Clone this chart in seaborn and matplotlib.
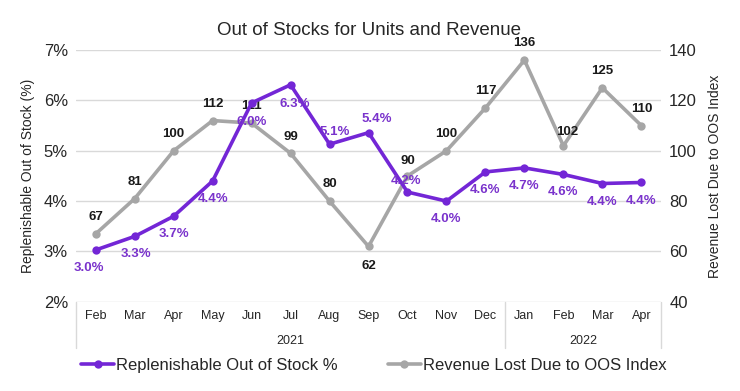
import numpy as np
import pandas as pd
import matplotlib
matplotlib.use("Agg")
import matplotlib.pyplot as plt
import seaborn as sns

# data
months = ["Feb", "Mar", "Apr", "May", "Jun", "Jul", "Aug", "Sep", "Oct", "Nov", "Dec",
          "Jan", "Feb", "Mar", "Apr"]
years = ["2021", "2022"]
months_per_year = [11, 4]
oos_pct = [3.03, 3.30, 3.70, 4.40, 5.95, 6.31, 5.13, 5.36, 4.18, 4.00, 4.58,
           4.66, 4.53, 4.35, 4.37]
oos_labels = ["3.0%", "3.3%", "3.7%", "4.4%", "6.0%", "6.3%", "5.1%", "5.4%", "4.2%",
              "4.0%", "4.6%", "4.7%", "4.6%", "4.4%", "4.4%"]
rev_index = [67, 81, 100, 112, 111, 99, 80, 62, 90, 100, 117, 136, 102, 125, 110]

# label placement (offset points)
oos_off = [(-5, -13), (1, -13), (0, -13), (0, -13), (0, -14), (3, -14), (4, 9), (6, 10),
           (-1, 8), (0, -13), (0, -13), (0, -13), (0, -13), (0, -13), (0, -13)]
rev_off = [(0, 12), (0, 12), (0, 12), (0, 12), (0, 12), (0, 12), (0, 12), (0, -14),
           (0, 11), (0, 12), (0, 12), (0, 12), (3, 10), (0, 12), (0, 12)]

PURPLE = "#7326D6"
PURPLE_TXT = "#7A33CC"
GRAY = "#A6A6A6"

sns.set_style("white")
plt.rcParams["font.family"] = ["Liberation Sans", "DejaVu Sans"]

df = pd.DataFrame({"x": np.arange(len(months)), "oos": oos_pct, "rev": rev_index})

fig = plt.figure(figsize=(7.4, 3.91), dpi=100)
ax = fig.add_axes([0.103, 0.228, 0.79, 0.644])
ax2 = ax.twinx()

sns.lineplot(data=df, x="x", y="rev", ax=ax2, color=GRAY, lw=2.6, marker="o",
             markersize=6, markeredgewidth=0, sort=False, zorder=2)
sns.lineplot(data=df, x="x", y="oos", ax=ax, color=PURPLE, lw=2.6, marker="o",
             markersize=6, markeredgewidth=0, sort=False, zorder=3)
ax.set_zorder(ax2.get_zorder() + 1)
ax.patch.set_visible(False)

ax.set_ylim(2, 7)
ax2.set_ylim(40, 140)
ax.set_xlim(-0.5, len(months) - 0.5)
ax.set_yticks(np.arange(2, 8))
ax.set_yticklabels([f"{v}%" for v in range(2, 8)], fontsize=12)
ax2.set_yticks(np.arange(40, 141, 20))
ax2.set_yticklabels([str(v) for v in range(40, 141, 20)], fontsize=12)
ax.tick_params(axis="y", length=0, pad=6)
ax2.tick_params(axis="y", length=0, pad=6)
# grid drawn on the back axis so labels sit on top of it
ax.yaxis.grid(False)
ax2.yaxis.grid(True, color="#D9D9D9", lw=1)
ax2.set_axisbelow(True)
for a in (ax, ax2):
    for s in a.spines.values():
        s.set_visible(False)

ax.set_ylabel("Replenishable Out of Stock (%)", fontsize=10, labelpad=6)
ax2.set_ylabel("Revenue Lost Due to OOS Index", fontsize=10, labelpad=8)
ax.set_xlabel("")
ax2.set_xlabel("")

# month labels
ax.set_xticks(df["x"])
ax.set_xticklabels(months, fontsize=9)
ax.tick_params(axis="x", length=0, pad=6)

# year groups + separators
trans = ax.get_xaxis_transform()
start = 0
edges = [-0.5]
for yr, n in zip(years, months_per_year):
    center = start + (n - 1) / 2
    ax.text(center, -0.155, yr, transform=trans, ha="center", va="center", fontsize=9)
    start += n
    edges.append(start - 0.5)
for e in edges:
    ax.plot([e, e], [0, -0.185], transform=trans, color="#D9D9D9", lw=1, clip_on=False)

# data labels
for i, (v, lab) in enumerate(zip(rev_index, rev_index)):
    ax2.annotate(str(lab), (i, v), xytext=rev_off[i], textcoords="offset points",
                 ha="center", va="center", fontsize=9.5, fontweight="bold", color="#1A1A1A",
                 zorder=5)
for i, (v, lab) in enumerate(zip(oos_pct, oos_labels)):
    ax.annotate(lab, (i, v), xytext=oos_off[i], textcoords="offset points",
                ha="center", va="center", fontsize=9.5, fontweight="bold", color=PURPLE_TXT,
                zorder=6)

ax.set_title("Out of Stocks for Units and Revenue", fontsize=13.5, pad=11)

handles = [
    plt.Line2D([], [], color=PURPLE, lw=2.6, marker="o", markersize=6, markeredgewidth=0),
    plt.Line2D([], [], color=GRAY, lw=2.6, marker="o", markersize=6, markeredgewidth=0),
]
fig.legend(handles, ["Replenishable Out of Stock %", "Revenue Lost Due to OOS Index"],
           loc="center", bbox_to_anchor=(0.505, 0.065), ncol=2, frameon=False, fontsize=12,
           handlelength=2.0, handletextpad=0.1, columnspacing=3.0)

fig.savefig("out.png", dpi=100)
